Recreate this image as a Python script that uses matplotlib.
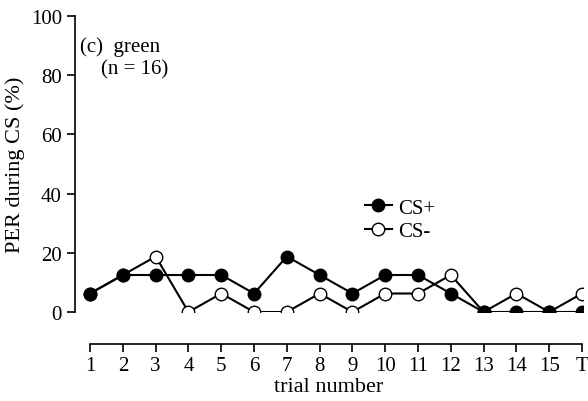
import numpy as np
import matplotlib.pyplot as plt

plt.rcParams["font.family"] = "Liberation Serif"

trials = np.arange(1, 17)
tick_labels = [str(i) for i in range(1, 16)] + ["T"]
cs_plus = [6.25, 12.5, 12.5, 12.5, 12.5, 6.25, 18.75, 12.5, 6.25, 12.5, 12.5, 6.25, 0, 0, 0, 0]
cs_minus = [6.25, 12.5, 18.75, 0, 6.25, 0, 0, 6.25, 0, 6.25, 6.25, 12.5, 0, 6.25, 0, 6.25]

fig = plt.figure(figsize=(5.88, 4.02), dpi=100)
ax = fig.add_axes([75 / 588, 1 - 313 / 402, (583 - 75) / 588, (313 - 17) / 402])

ax.plot(trials, cs_minus, color="black", lw=1.5, marker="o", ms=9, mfc="white", mec="black", mew=1, label="CS-", zorder=2)
ax.plot(trials, cs_plus, color="black", lw=1.5, marker="o", ms=9, mfc="black", mec="black", label="CS+", zorder=3)

ax.set_xlim(0.54, 16.03)
ax.set_ylim(0, 100)
ax.set_xticks(trials)
ax.set_xticklabels(tick_labels)
ax.set_yticks(range(0, 101, 20))
ax.tick_params(labelsize=15, direction="out", length=6, width=1.2)
ax.tick_params(axis="x", pad=3)
for s in ["top", "right"]:
    ax.spines[s].set_visible(False)
ax.spines["left"].set_linewidth(1.2)
ax.spines["bottom"].set_linewidth(1.2)
ax.spines["bottom"].set_position(("outward", 23))
ax.spines["bottom"].set_bounds(1, 16)

ax.set_xlabel("trial number", fontsize=16, labelpad=1)
ax.set_ylabel("PER during CS (%)", fontsize=16)
ax.text(0.01, 0.93, "(c)  green\n    (n = 16)", transform=ax.transAxes, fontsize=15, va="top")

h, l = ax.get_legend_handles_labels()
ax.legend(h[::-1], l[::-1], loc="upper left", bbox_to_anchor=(0.55, 0.42), frameon=False,
          fontsize=15, handlelength=1.3, handletextpad=0.3, labelspacing=0.2, borderpad=0)

fig.savefig("out.png", dpi=100)
